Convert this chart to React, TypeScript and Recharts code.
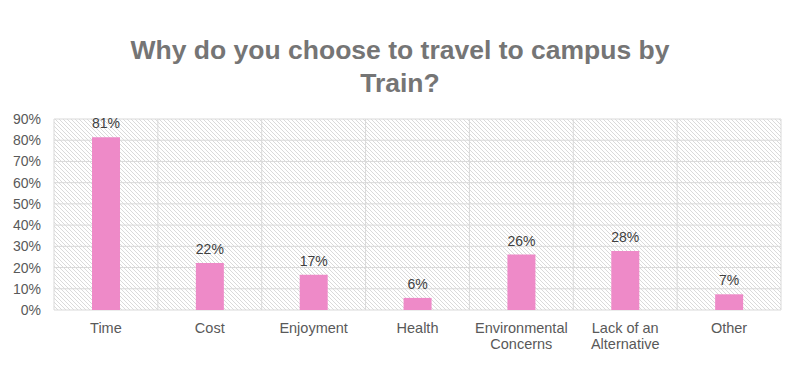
import React from 'react';
import { BarChart, Bar, XAxis, YAxis, CartesianGrid, LabelList } from 'recharts';

const categories = ['Time', 'Cost', 'Enjoyment', 'Health', 'Environmental Concerns', 'Lack of an Alternative', 'Other'];
const tickLines: string[][] = [
  ['Time'],
  ['Cost'],
  ['Enjoyment'],
  ['Health'],
  ['Environmental', 'Concerns'],
  ['Lack of an', 'Alternative'],
  ['Other'],
];
const values = [81.4, 22.1, 16.6, 5.7, 26.1, 27.8, 7.4];
const yTicks = [0, 10, 20, 30, 40, 50, 60, 70, 80, 90];

const data = categories.map((c, i) => ({ name: c, value: values[i], idx: i }));

const FONT = '"Liberation Sans", Arial, sans-serif';

const XTick = (props: any) => {
  const { x, y, payload } = props;
  const lines = tickLines[payload.index] ?? [String(payload.value)];
  return (
    <text x={x} y={y} textAnchor="middle" fill="#595959" fontSize={14.5} fontFamily={FONT}>
      {lines.map((l, i) => (
        <tspan key={i} x={x} dy={i === 0 ? 23 : 16}>{l}</tspan>
      ))}
    </text>
  );
};

export default function App() {
  return (
    <div style={{ position: 'absolute', left: 0, top: 0, width: 800, height: 387, background: '#fff' }}>
      <svg width={0} height={0} style={{ position: 'absolute' }}>
        <defs>
          <pattern id="hatch" patternUnits="userSpaceOnUse" width={4} height={4}>
            <rect width={4} height={4} fill="#ffffff" />
            <path d="M-1,-1 L5,5 M-1,3 L1,5 M3,-1 L5,1" stroke="#d6d6d6" strokeWidth={0.9} />
          </pattern>
        </defs>
      </svg>
      <div
        style={{
          position: 'absolute', left: 0, top: 34, width: 800, textAlign: 'center',
          fontFamily: FONT, fontWeight: 'bold', fontSize: 26.5, color: '#757575', lineHeight: '33px',
        }}
      >
        Why do you choose to travel to campus by
        <br />
        Train?
      </div>
      <BarChart
        width={800}
        height={387}
        data={data}
        margin={{ top: 119, right: 19, bottom: 0, left: 0 }}
        barSize={28}
      >
        <CartesianGrid
          stroke="#d9d9d9"
          strokeWidth={1}
          fill="url(#hatch)"
          fillOpacity={1}
          verticalCoordinatesGenerator={({ offset }: any) =>
            categories.map((_, i) => offset.left + (i * offset.width) / categories.length).concat([offset.left + offset.width])
          }
        />
        <XAxis
          dataKey="name"
          height={77}
          axisLine={false}
          tickLine={false}
          tickSize={0}
          tickMargin={0}
          interval={0}
          tick={<XTick />}
        />
        <YAxis
          width={54}
          domain={[0, 90]}
          ticks={yTicks}
          interval={0}
          axisLine={false}
          tickLine={false}
          tickSize={0}
          tickMargin={13}
          tickFormatter={(v: number) => `${v}%`}
          tick={{ fill: '#595959', fontSize: 14, fontFamily: FONT }}
        />
        <Bar dataKey="value" fill="#EE8AC8" isAnimationActive={false}>
          <LabelList
            dataKey="value"
            position="top"
            offset={9}
            formatter={(v: number) => `${Math.round(v)}%`}
            style={{ fill: '#404040', fontSize: 14, fontFamily: FONT }}
          />
        </Bar>
      </BarChart>
    </div>
  );
}
